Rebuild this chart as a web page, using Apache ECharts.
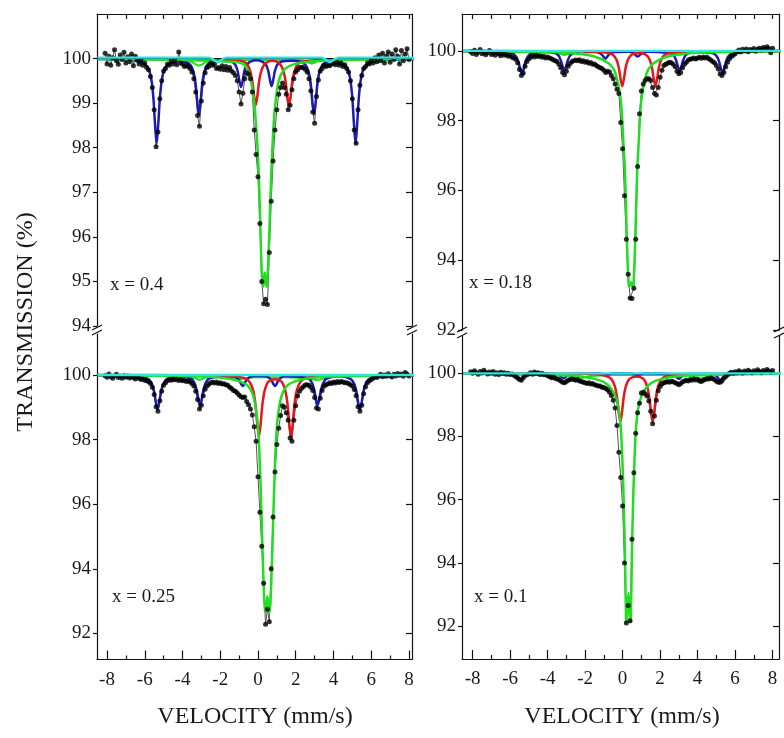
<!DOCTYPE html>
<html><head><meta charset="utf-8">
<script src="https://cdn.jsdelivr.net/npm/echarts@6/dist/echarts.min.js"></script>
<style>html,body{margin:0;padding:0;background:#fff}#c{width:784px;height:738px}</style>
</head><body><div id="c"></div>
<script>
// ---------- data ----------
const velocity = [
-8.1,-8,-7.9,-7.8,-7.7,-7.6,-7.5,-7.4,-7.3,-7.2,
-7.1,-7,-6.9,-6.8,-6.7,-6.6,-6.5,-6.4,-6.3,-6.2,
-6.1,-6,-5.9,-5.8,-5.7,-5.6,-5.5,-5.4,-5.3,-5.2,
-5.1,-5,-4.9,-4.8,-4.7,-4.6,-4.5,-4.4,-4.3,-4.2,
-4.1,-4,-3.9,-3.8,-3.7,-3.6,-3.5,-3.4,-3.3,-3.2,
-3.1,-3,-2.9,-2.8,-2.7,-2.6,-2.5,-2.4,-2.3,-2.2,
-2.1,-2,-1.9,-1.8,-1.7,-1.6,-1.5,-1.4,-1.3,-1.2,
-1.1,-1,-0.9,-0.8,-0.7,-0.6,-0.5,-0.4,-0.3,-0.2,
-0.1,0,0.1,0.2,0.3,0.4,0.5,0.6,0.7,0.8,
0.9,1,1.1,1.2,1.3,1.4,1.5,1.6,1.7,1.8,
1.9,2,2.1,2.2,2.3,2.4,2.5,2.6,2.7,2.8,
2.9,3,3.1,3.2,3.3,3.4,3.5,3.6,3.7,3.8,
3.9,4,4.1,4.2,4.3,4.4,4.5,4.6,4.7,4.8,
4.9,5,5.1,5.2,5.3,5.4,5.5,5.6,5.7,5.8,
5.9,6,6.1,6.2,6.3,6.4,6.5,6.6,6.7,6.8,
6.9,7,7.1,7.2,7.3,7.4,7.5,7.6,7.7,7.8,
7.9,8];

const trans_x04 = [
100.12,99.88,100.05,99.85,100.02,100.2,99.95,99.87,100.08,99.98,
100.14,99.9,100.04,99.93,100.1,99.84,100.05,99.96,99.88,99.97,
99.85,99.9,99.8,99.75,99.6,99.35,98.85,98.02,98.35,99.1,
99.5,99.72,99.78,99.88,99.85,99.95,99.88,99.95,99.86,100.15,
99.9,99.88,99.82,99.85,99.82,99.78,99.7,99.55,99.25,98.72,
98.48,99.05,99.45,99.68,99.8,99.83,99.9,99.85,99.88,99.78,
99.8,99.76,99.84,99.75,99.82,99.74,99.8,99.72,99.68,99.62,
99.5,99.25,98.98,99.22,99.55,99.68,99.65,99.55,99.25,98.4,
97.85,97.35,96.3,95.0,94.5,94.6,94.48,95.65,96.8,97.7,
98.4,98.85,99.2,99.35,99.45,99.35,99.2,98.85,98.95,99.3,
99.55,99.7,99.75,99.8,99.8,99.8,99.76,99.7,99.55,99.28,
98.8,98.55,99.15,99.52,99.72,99.78,99.85,99.82,99.85,99.84,
99.88,99.9,99.86,99.92,99.85,99.9,99.82,99.86,99.78,99.7,
99.5,99.1,98.4,98.1,98.85,99.4,99.62,99.78,99.82,99.9,
99.88,99.95,99.9,100.02,99.93,100.08,99.95,100.12,99.9,100.05,
100.15,99.92,100.1,99.98,100.2,100.05,99.88,100.18,99.95,100.1,
100.22,99.98];

const trans_x018 = [
99.98,99.93,100.02,99.9,99.96,100.04,99.92,99.97,99.89,99.95,
100.01,99.9,99.94,99.88,99.96,99.91,99.86,99.93,99.88,99.9,
99.85,99.88,99.82,99.8,99.76,99.66,99.47,99.3,99.36,99.56,
99.7,99.78,99.82,99.87,99.83,99.88,99.84,99.86,99.82,99.85,
99.8,99.83,99.8,99.78,99.75,99.72,99.7,99.62,99.52,99.38,
99.32,99.42,99.56,99.64,99.7,99.72,99.74,99.72,99.75,99.7,
99.72,99.68,99.7,99.65,99.67,99.62,99.63,99.58,99.55,99.52,
99.5,99.45,99.38,99.42,99.4,99.3,99.2,99.05,98.9,98.78,
97.95,97.2,95.85,94.6,93.6,92.92,92.9,93.2,94.6,96.69,
98.2,98.85,99.05,99.15,99.2,99.2,99.15,98.95,98.78,98.74,
98.95,99.25,99.45,99.58,99.62,99.65,99.68,99.66,99.62,99.55,
99.42,99.35,99.38,99.52,99.62,99.68,99.74,99.76,99.78,99.8,
99.77,99.8,99.82,99.79,99.83,99.8,99.82,99.78,99.74,99.7,
99.66,99.58,99.48,99.34,99.3,99.38,99.55,99.68,99.78,99.84,
99.88,99.92,99.98,100.03,99.97,100.05,100.0,100.06,99.98,100.04,
100.02,100.07,99.99,100.05,100.08,100.03,100.1,100.06,100.12,100.07,
99.95,100.08];

const trans_x025 = [
99.98,99.93,100.03,99.95,99.9,99.97,100.02,99.92,99.96,99.9,
99.98,99.93,99.97,99.91,99.95,99.92,99.88,99.94,99.9,99.86,
99.88,99.84,99.82,99.8,99.74,99.62,99.4,99.02,98.88,99.2,
99.5,99.68,99.76,99.82,99.86,99.84,99.88,99.85,99.87,99.83,
99.86,99.82,99.84,99.8,99.82,99.78,99.74,99.66,99.5,99.24,
98.95,99.06,99.36,99.56,99.66,99.72,99.76,99.78,99.75,99.78,
99.74,99.76,99.72,99.73,99.7,99.68,99.62,99.58,99.52,99.5,
99.44,99.38,99.33,99.3,99.32,99.18,99.08,98.95,98.76,98.4,
97.95,96.85,95.75,94.7,93.55,92.28,92.75,92.36,94.0,95.6,
97.0,97.85,98.35,98.75,99.05,99.0,98.83,98.6,98.05,97.95,
98.6,99.05,99.35,99.5,99.58,99.64,99.69,99.7,99.68,99.62,
99.52,99.3,98.98,98.95,99.28,99.52,99.65,99.7,99.72,99.76,
99.74,99.78,99.75,99.8,99.77,99.8,99.78,99.76,99.76,99.74,
99.7,99.66,99.55,99.36,99.02,98.88,99.06,99.42,99.64,99.76,
99.82,99.86,99.9,99.95,99.92,99.97,100.02,99.95,100.0,99.96,
100.04,99.98,99.94,100.02,99.97,100.05,99.99,100.03,99.96,100.08,
100.02,99.97];

const trans_x01 = [
100.05,100.0,100.08,100.02,99.97,100.06,100.01,100.1,100.03,99.98,
100.04,100.0,100.06,99.97,100.02,99.96,100.03,99.99,100.02,99.97,
100.0,99.96,99.98,99.94,99.9,99.85,99.8,99.78,99.86,99.92,
99.96,99.98,100.02,99.97,100.04,99.99,100.02,99.96,100.0,99.95,
99.97,99.92,99.9,99.86,99.88,99.84,99.82,99.8,99.76,99.72,
99.7,99.74,99.78,99.8,99.82,99.8,99.78,99.8,99.76,99.74,
99.72,99.7,99.68,99.7,99.66,99.68,99.64,99.62,99.6,99.6,
99.56,99.55,99.52,99.48,99.4,99.3,99.15,98.9,98.35,97.5,
96.7,95.8,94.0,92.1,92.65,92.17,94.75,96.85,98.1,98.75,
99.05,99.38,99.4,99.35,99.28,99.12,98.8,98.4,98.65,99.15,
99.45,99.58,99.66,99.7,99.72,99.74,99.72,99.75,99.73,99.7,
99.68,99.64,99.68,99.73,99.76,99.78,99.76,99.8,99.78,99.82,
99.79,99.8,99.76,99.74,99.78,99.8,99.83,99.82,99.85,99.83,
99.8,99.75,99.72,99.72,99.76,99.84,99.9,99.95,100.0,100.03,
100.0,100.05,100.02,100.08,100.04,100.01,100.07,100.03,100.1,100.05,
100.02,100.08,100.04,100.11,100.06,100.02,100.09,100.05,100.12,100.07,
100.03,100.09];

// fitted components (velocity, transmission)
const blue_x04 = [[-8.5,99.99],[-7,99.98],[-6.4,99.95],[-5.87,99.82],[-5.67,99.58],[-5.55,99.16],[-5.46,98.56],[-5.37,98.1],[-5.28,98.56],[-5.19,99.16],[-5.07,99.58],[-4.87,99.82],[-4.25,99.95],[-3.63,99.88],[-3.43,99.72],[-3.31,99.45],[-3.22,99.04],[-3.13,98.74],[-3.04,99.04],[-2.95,99.45],[-2.83,99.72],[-2.63,99.88],[-2.0,99.95],[-1.4,99.93],[-1.2,99.86],[-1.08,99.72],[-0.99,99.51],[-0.9,99.36],[-0.81,99.51],[-0.72,99.72],[-0.6,99.86],[-0.4,99.93],[-0.09,99.96],[0.22,99.93],[0.42,99.86],[0.54,99.73],[0.63,99.53],[0.72,99.38],[0.81,99.53],[0.9,99.73],[1.02,99.86],[1.22,99.93],[1.85,99.95],[2.47,99.88],[2.67,99.72],[2.79,99.45],[2.88,99.04],[2.97,98.74],[3.06,99.04],[3.15,99.45],[3.27,99.72],[3.47,99.88],[4.07,99.96],[4.67,99.82],[4.87,99.58],[4.99,99.16],[5.08,98.56],[5.17,98.1],[5.26,98.56],[5.35,99.16],[5.47,99.58],[5.67,99.82],[6.3,99.95],[7.5,99.98],[8.5,99.99]];
const red_x04 = [[-8.5,100],[-3,99.98],[-1.5,99.95],[-0.92,99.95],[-0.62,99.89],[-0.42,99.73],[-0.3,99.49],[-0.21,99.17],[-0.12,98.95],[-0.03,99.17],[0.06,99.49],[0.18,99.73],[0.38,99.89],[0.76,99.95],[1.14,99.89],[1.34,99.73],[1.46,99.49],[1.55,99.17],[1.64,98.95],[1.73,99.17],[1.82,99.49],[1.94,99.73],[2.14,99.89],[2.6,99.95],[4,99.98],[8.5,100]];
const green_x04 = [[-8.5,99.99],[-4,99.97],[-2.5,99.95],[-1.5,99.93],[-1.0,99.91],[-0.7,99.85],[-0.5,99.7],[-0.35,99.45],[-0.2,99.0],[-0.1,98.5],[0,97.8],[0.08,96.9],[0.14,96.0],[0.2,95.2],[0.26,94.88],[0.3,94.95],[0.36,95.2],[0.42,94.95],[0.47,94.88],[0.53,95.3],[0.6,96.1],[0.66,96.9],[0.74,97.8],[0.84,98.6],[0.95,99.1],[1.1,99.5],[1.3,99.7],[1.6,99.82],[2.2,99.9],[3.5,99.95],[8.5,99.99]];
const green2_x04 = [[-8.5,99.99],[-4.2,99.98],[-3.7,99.95],[-3.45,99.91],[-3.3,99.87],[-3.2,99.85],[-3.13,99.84],[-3.06,99.85],[-2.96,99.87],[-2.81,99.91],[-2.56,99.95],[-2.0,99.97],[0.3,99.97],[2.2,99.97],[2.5,99.95],[2.65,99.92],[2.77,99.9],[2.85,99.89],[2.93,99.9],[3.05,99.92],[3.2,99.95],[3.5,99.97],[5,99.98],[8.5,99.99]];
const cyan_x04 = [[-8.5,100.02],[-2.6,100.02],[-2.36,99.98],[-2.23,99.94],[-2.14,99.92],[-2.05,99.94],[-1.92,99.98],[-1.7,100.02],[3.35,100.02],[3.59,99.98],[3.72,99.94],[3.81,99.92],[3.9,99.94],[4.03,99.98],[4.27,100.02],[8.5,100.02]];

const blue_x018 = [[-8.5,100],[-6.5,99.98],[-5.87,99.93],[-5.67,99.83],[-5.55,99.68],[-5.46,99.48],[-5.37,99.34],[-5.28,99.48],[-5.19,99.68],[-5.07,99.83],[-4.87,99.93],[-4.24,99.97],[-3.61,99.94],[-3.41,99.86],[-3.29,99.72],[-3.2,99.55],[-3.11,99.43],[-3.02,99.55],[-2.93,99.72],[-2.81,99.86],[-2.61,99.94],[-2.0,99.97],[-1.42,99.97],[-1.22,99.94],[-1.1,99.89],[-1.01,99.83],[-0.92,99.78],[-0.83,99.83],[-0.74,99.89],[-0.62,99.94],[-0.42,99.97],[0.3,99.98],[0.5,99.96],[0.62,99.92],[0.71,99.87],[0.8,99.84],[0.89,99.87],[0.98,99.92],[1.1,99.96],[1.3,99.98],[1.9,99.97],[2.54,99.94],[2.74,99.86],[2.86,99.72],[2.95,99.55],[3.04,99.43],[3.13,99.55],[3.22,99.72],[3.34,99.86],[3.54,99.94],[4.2,99.97],[4.83,99.93],[5.03,99.84],[5.15,99.69],[5.24,99.5],[5.33,99.37],[5.42,99.5],[5.51,99.69],[5.63,99.84],[5.83,99.93],[6.5,99.98],[8.5,100]];
const red_x018 = [[-8.5,100],[-1.5,99.98],[-0.82,99.95],[-0.52,99.89],[-0.32,99.74],[-0.2,99.51],[-0.11,99.2],[-0.02,98.99],[0.07,99.2],[0.16,99.51],[0.28,99.74],[0.48,99.89],[0.86,99.94],[1.25,99.89],[1.45,99.74],[1.57,99.51],[1.66,99.2],[1.75,98.99],[1.84,99.2],[1.93,99.51],[2.05,99.74],[2.25,99.89],[2.6,99.95],[4,99.98],[8.5,100]];
const green_x018 = [[-8.5,99.99],[-3,99.95],[-1.55,99.85],[-0.75,99.65],[-0.45,99.45],[-0.3,99.2],[-0.15,98.8],[-0.05,98.3],[0.05,97.3],[0.12,96.6],[0.18,95.5],[0.25,94.2],[0.32,93.32],[0.37,93.25],[0.45,93.37],[0.53,93.25],[0.58,93.32],[0.65,94.2],[0.72,95.5],[0.78,96.6],[0.85,97.3],[0.95,98.3],[1.05,98.8],[1.2,99.2],[1.35,99.45],[1.65,99.65],[2.45,99.85],[4,99.95],[8.5,99.99]];
const green2_x018 = [[-8.5,99.99],[-4,99.98],[-3.6,99.95],[-3.3,99.91],[-3.1,99.89],[-2.9,99.91],[-2.6,99.95],[-2,99.97],[2.2,99.97],[2.7,99.94],[2.95,99.9],[3.15,99.9],[3.4,99.94],[3.9,99.97],[4.3,99.95],[4.5,99.93],[4.7,99.95],[5.1,99.98],[8.5,99.99]];
const cyan_x018 = [[-8.5,100],[-2.4,100],[-2.2,99.98],[-2.0,100],[3.7,100],[3.9,99.98],[4.1,100],[8.5,100]];

const blue_x025 = [[-8.5,99.99],[-7,99.98],[-6.3,99.95],[-5.82,99.88],[-5.62,99.72],[-5.5,99.48],[-5.41,99.15],[-5.32,98.94],[-5.23,99.15],[-5.14,99.48],[-5.02,99.72],[-4.82,99.88],[-4.2,99.96],[-3.57,99.9],[-3.37,99.76],[-3.25,99.54],[-3.16,99.26],[-3.07,99.07],[-2.98,99.26],[-2.89,99.54],[-2.77,99.76],[-2.57,99.9],[-1.94,99.95],[-1.31,99.96],[-1.11,99.91],[-0.99,99.83],[-0.9,99.73],[-0.81,99.66],[-0.72,99.73],[-0.63,99.83],[-0.51,99.91],[-0.31,99.96],[0.05,99.97],[0.4,99.96],[0.6,99.91],[0.72,99.83],[0.81,99.73],[0.9,99.66],[0.99,99.73],[1.08,99.83],[1.2,99.91],[1.4,99.96],[2.03,99.95],[2.66,99.9],[2.86,99.76],[2.98,99.54],[3.07,99.26],[3.16,99.07],[3.25,99.26],[3.34,99.54],[3.46,99.76],[3.66,99.9],[4.28,99.96],[4.9,99.88],[5.1,99.72],[5.22,99.47],[5.31,99.14],[5.4,98.92],[5.49,99.14],[5.58,99.47],[5.7,99.72],[5.9,99.88],[6.4,99.95],[7.5,99.98],[8.5,99.99]];
const red_x025 = [[-8.5,100],[-1.5,99.98],[-0.75,99.91],[-0.45,99.79],[-0.25,99.51],[-0.13,99.07],[-0.04,98.49],[0.05,98.11],[0.14,98.49],[0.23,99.07],[0.35,99.51],[0.55,99.79],[0.9,99.87],[1.25,99.79],[1.45,99.51],[1.57,99.07],[1.66,98.49],[1.75,98.11],[1.84,98.49],[1.93,99.07],[2.05,99.51],[2.25,99.79],[2.55,99.91],[3.5,99.97],[8.5,100]];
const green_x025 = [[-8.5,99.99],[-3,99.95],[-1.5,99.88],[-0.6,99.7],[-0.25,99.35],[-0.05,98.7],[0.05,97.9],[0.12,96.9],[0.18,95.8],[0.24,94.6],[0.3,93.5],[0.35,92.85],[0.4,92.65],[0.45,92.85],[0.5,93.15],[0.55,92.85],[0.6,92.65],[0.65,92.85],[0.7,93.5],[0.76,94.6],[0.82,95.8],[0.88,96.9],[0.95,97.9],[1.05,98.7],[1.25,99.35],[1.6,99.7],[2.5,99.88],[4,99.95],[8.5,99.99]];
const green2_x025 = [[-8.5,99.99],[-4,99.97],[-3.5,99.93],[-3.25,99.88],[-3.1,99.85],[-2.95,99.88],[-2.7,99.93],[-2.2,99.95],[-1.6,99.93],[-1.2,99.9],[-0.9,99.88],[-0.6,99.9],[-0.2,99.93],[1.5,99.93],[2.0,99.92],[2.5,99.9],[2.85,99.87],[3.1,99.85],[3.35,99.87],[3.7,99.92],[4.3,99.96],[8.5,99.99]];
const cyan_x025 = [[-8.5,100],[8.5,100]];

const blue_x01 = [[-8.5,100],[-6.5,99.99],[-5.96,99.98],[-5.76,99.95],[-5.64,99.9],[-5.55,99.83],[-5.46,99.79],[-5.37,99.83],[-5.28,99.9],[-5.16,99.95],[-4.96,99.98],[-4.3,99.99],[-3.65,99.98],[-3.45,99.96],[-3.33,99.92],[-3.24,99.87],[-3.15,99.84],[-3.06,99.87],[-2.97,99.92],[-2.85,99.96],[-2.65,99.98],[-1.3,100],[-1.1,99.98],[-0.99,99.96],[-0.9,99.94],[-0.81,99.96],[-0.7,99.98],[-0.5,100],[0.4,100],[0.6,99.98],[0.71,99.96],[0.8,99.94],[0.89,99.96],[1.0,99.98],[1.2,100],[2.5,99.98],[2.7,99.96],[2.82,99.92],[2.91,99.86],[3.0,99.83],[3.09,99.86],[3.18,99.92],[3.3,99.96],[3.5,99.98],[4.71,99.98],[4.91,99.95],[5.03,99.9],[5.12,99.83],[5.21,99.79],[5.3,99.83],[5.39,99.9],[5.51,99.95],[5.71,99.98],[6.5,99.99],[8.5,100]];
const red_x01 = [[-8.5,100],[-1.5,99.98],[-0.92,99.92],[-0.62,99.83],[-0.42,99.6],[-0.3,99.25],[-0.21,98.78],[-0.12,98.47],[-0.03,98.78],[0.06,99.25],[0.18,99.6],[0.38,99.83],[0.74,99.9],[1.1,99.83],[1.3,99.6],[1.42,99.25],[1.51,98.78],[1.6,98.47],[1.69,98.78],[1.78,99.25],[1.9,99.6],[2.1,99.83],[2.4,99.92],[3.5,99.97],[8.5,100]];
const green_x01 = [[-8.5,99.99],[-3.5,99.94],[-2.2,99.9],[-1.1,99.75],[-0.6,99.5],[-0.29,99.1],[-0.11,98.4],[0.0,97.05],[0.07,95.7],[0.13,94.1],[0.18,92.3],[0.21,92.12],[0.25,92.5],[0.31,93.04],[0.37,92.5],[0.41,92.12],[0.44,92.3],[0.49,94.1],[0.55,95.7],[0.62,97.05],[0.73,98.4],[0.91,99.1],[1.21,99.5],[1.71,99.75],[2.8,99.9],[4,99.94],[8.5,99.99]];
const green2_x01 = [[-8.5,99.99],[-3.5,99.97],[-2.9,99.93],[-2.5,99.86],[-2.3,99.83],[-2.1,99.86],[-1.7,99.92],[-1.2,99.93],[-0.8,99.95],[2.5,99.95],[3.5,99.93],[3.95,99.87],[4.2,99.84],[4.45,99.87],[4.9,99.94],[5.5,99.98],[8.5,99.99]];
const cyan_x01 = [[-8.5,100],[8.5,100]];

// tick values / labels
const yTicks_x04 = [94,95,96,97,98,99,100];
const yTicks_even = [92,94,96,98,100];
const xTickLabels = [-8,-6,-4,-2,0,2,4,6,8];
const xMinorTicks = [-7,-5,-3,-1,1,3,5,7];
const xTopTicks = [-8,-7,-6,-5,-4,-3,-2,-1,0,1,2,3,4,5,6,7,8];
const panelLabels = ['x = 0.4','x = 0.18','x = 0.25','x = 0.1'];

// ---------- chart ----------
const FONT = 'Liberation Serif';
const INK = '#111';
const pair = (T) => velocity.map((v, i) => [v, T[i]]);

const panels = [
  {box:[97,14,315,312], xr:[-8.53,8.16], yr:[94,101], yt:yTicks_x04, upper:true,
   T:trans_x04, blue:blue_x04, red:red_x04, green:green_x04, green2:green2_x04, cyan:cyan_x04, label:panelLabels[0], lp:[110,285]},
  {box:[462,14,317,316], xr:[-8.565,8.34], yr:[92,101.06], yt:yTicks_even, upper:true,
   T:trans_x018, blue:blue_x018, red:red_x018, green:green_x018, green2:green2_x018, cyan:cyan_x018, label:panelLabels[1], lp:[469,283]},
  {box:[97,334,315,325.5], xr:[-8.53,8.16], yr:[91.19,101.27], yt:yTicks_even, upper:false,
   T:trans_x025, blue:blue_x025, red:red_x025, green:green_x025, green2:green2_x025, cyan:cyan_x025, label:panelLabels[2], lp:[112,597]},
  {box:[462,336,317,323], xr:[-8.565,8.34], yr:[90.96,101.18], yt:yTicks_even, upper:false,
   T:trans_x01, blue:blue_x01, red:red_x01, green:green_x01, green2:green2_x01, cyan:cyan_x01, label:panelLabels[3], lp:[474,597]}
];

const labelStyle = {fontFamily: FONT, fontSize: 19, color: '#1a1a1a'};
const axisLine = {show: true, onZero: false, lineStyle: {color: INK, width: 1.2}};
const tickLine = {color: INK, width: 1.2};

const option = {
  animation: false,
  backgroundColor: '#ffffff',
  grid: [], xAxis: [], yAxis: [], series: [], graphic: []
};

panels.forEach((p, i) => {
  option.grid.push({left: p.box[0], top: p.box[1], width: p.box[2], height: p.box[3], containLabel: false, outerBoundsMode: 'none'});
  const xi = option.xAxis.length;
  if (p.upper) {
    option.xAxis.push({gridIndex: i, type: 'value', min: p.xr[0], max: p.xr[1], position: 'top',
      axisLine, axisTick: {show: true, inside: true, length: 5, customValues: xTopTicks, lineStyle: tickLine},
      axisLabel: {show: false}, splitLine: {show: false}});
  } else {
    option.xAxis.push({gridIndex: i, type: 'value', min: p.xr[0], max: p.xr[1], position: 'bottom',
      axisLine, axisTick: {show: true, inside: true, length: 9, customValues: xTickLabels, lineStyle: tickLine},
      axisLabel: Object.assign({show: true, margin: 11, customValues: xTickLabels}, labelStyle), splitLine: {show: false}});
    option.xAxis.push({gridIndex: i, type: 'value', min: p.xr[0], max: p.xr[1], position: 'bottom',
      axisLine: {show: false, onZero: false}, axisTick: {show: true, inside: true, length: 4, customValues: xMinorTicks, lineStyle: tickLine},
      axisLabel: {show: false}, splitLine: {show: false}});
  }
  const yi = option.yAxis.length;
  option.yAxis.push({gridIndex: i, type: 'value', min: p.yr[0], max: p.yr[1], position: 'left',
    axisLine, axisTick: {show: true, inside: false, length: 4, customValues: p.yt, lineStyle: tickLine},
    axisLabel: Object.assign({show: true, margin: 6, customValues: p.yt}, labelStyle), splitLine: {show: false}});
  option.yAxis.push({gridIndex: i, type: 'value', min: p.yr[0], max: p.yr[1], position: 'right',
    axisLine, axisTick: {show: true, inside: true, length: 6, customValues: p.yt, lineStyle: tickLine},
    axisLabel: {show: false}, splitLine: {show: false}});

  const base = {xAxisIndex: xi, yAxisIndex: yi, showSymbol: false, symbol: 'none', silent: true, clip: true};
  const data = pair(p.T);
  option.series.push(Object.assign({}, base, {type: 'line', data: data, z: 2,
    lineStyle: {color: '#555', width: 1},
    markLine: {silent: true, symbol: 'none', label: {show: false}, animation: false,
      lineStyle: {color: '#000', width: 1, type: 'solid'}, data: [{yAxis: 100}]}}));
  option.series.push(Object.assign({}, base, {type: 'line', data: p.green2, smooth: 0.3, z: 3, lineStyle: {color: '#22dd22', width: 2.2}}));
  option.series.push(Object.assign({}, base, {type: 'line', data: p.blue, smooth: 0.3, z: 3, lineStyle: {color: '#1c1cb2', width: 2.5}}));
  option.series.push(Object.assign({}, base, {type: 'line', data: p.red, smooth: 0.3, z: 3, lineStyle: {color: '#e3171c', width: 2.5}}));
  option.series.push(Object.assign({}, base, {type: 'line', data: p.green, smooth: 0.3, z: 4, lineStyle: {color: '#22dd22', width: 2.5}}));
  option.series.push({type: 'scatter', xAxisIndex: xi, yAxisIndex: yi, data: data, symbol: 'circle', symbolSize: 5,
    itemStyle: {color: '#000'}, z: 5, silent: true});
  option.series.push(Object.assign({}, base, {type: 'line', data: p.cyan, smooth: 0.3, z: 6, lineStyle: {color: '#2fe3e3', width: 2.3}}));

  option.graphic.push({type: 'text', x: p.lp[0], y: p.lp[1], z: 100,
    style: {text: p.label, font: '19px "Liberation Serif"', fill: '#1a1a1a', align: 'left', verticalAlign: 'middle', textAlign: 'left', textVerticalAlign: 'middle'}});
});

// axis titles
option.graphic.push({type: 'text', x: 26, y: 322, rotation: Math.PI / 2, z: 100,
  style: {text: 'TRANSMISSION (%)', font: '24px "Liberation Serif"', fill: '#1a1a1a', align: 'center', verticalAlign: 'middle', textAlign: 'center', textVerticalAlign: 'middle'}});
[[255, 717], [622, 717]].forEach(pt => {
  option.graphic.push({type: 'text', x: pt[0], y: pt[1], z: 100,
    style: {text: 'VELOCITY (mm/s)', font: '24px "Liberation Serif"', fill: '#1a1a1a', align: 'center', verticalAlign: 'middle', textAlign: 'center', textVerticalAlign: 'middle'}});
});

// axis break marks
const breaks = [[97, 327.5], [97, 332.5], [412, 327.5], [412, 332.5], [462, 329.5], [462, 335.5], [779, 329.5], [779, 335.5]];
breaks.forEach(b => {
  option.graphic.push({type: 'line', z: 100, shape: {x1: b[0] - 5, y1: b[1] + 2.5, x2: b[0] + 5, y2: b[1] - 2.5},
    style: {stroke: INK, lineWidth: 1.2}});
});

const chart = echarts.init(document.getElementById('c'), null, {renderer: 'canvas'});
chart.setOption(option);
</script>
</body></html>
